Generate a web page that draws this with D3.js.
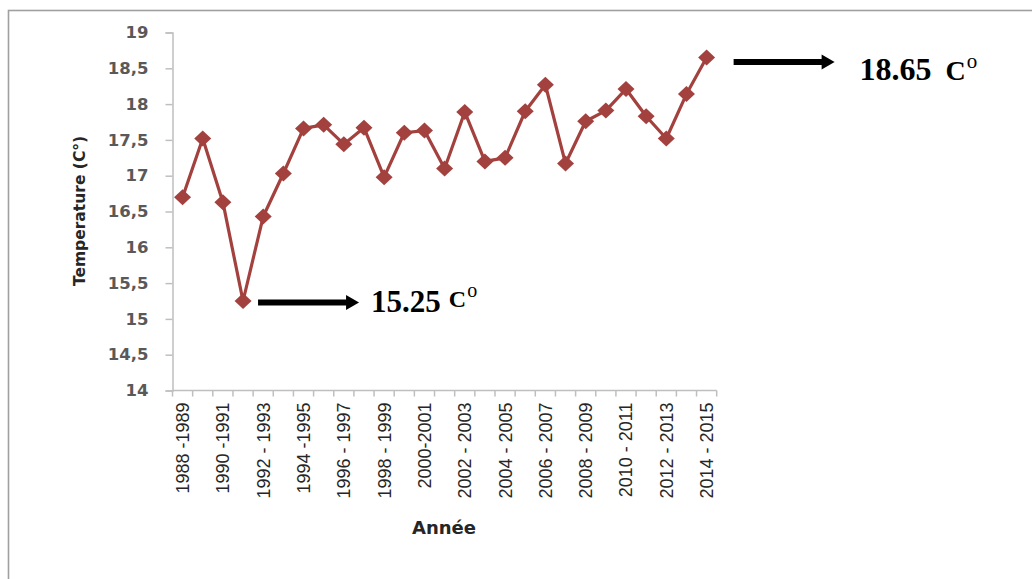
<!DOCTYPE html>
<html>
<head>
<meta charset="utf-8">
<script src="https://cdn.jsdelivr.net/npm/d3@7"></script>
<style>
  body { margin: 0; background: #fff; }
  svg { display: block; }
</style>
</head>
<body>
<svg id="chart" width="1032" height="579"></svg>
<script>
// Seasonal periods (one per hydrological year)
const periods = [
  "1988 -1989", "1989 - 1990", "1990 -1991", "1991 - 1992", "1992 - 1993",
  "1993 - 1994", "1994 -1995", "1995 - 1996", "1996 - 1997", "1997 - 1998",
  "1998 - 1999", "1999 - 2000", "2000-2001", "2001 - 2002", "2002 - 2003",
  "2003 - 2004", "2004 - 2005", "2005 - 2006", "2006 - 2007", "2007 - 2008",
  "2008 - 2009", "2009 - 2010", "2010 - 2011", "2011 - 2012", "2012 - 2013",
  "2013 - 2014", "2014 - 2015"
];

// Mean annual temperature (°C)
const temperature = [
  16.70, 17.52, 16.63, 15.25, 16.43, 17.03, 17.66, 17.71, 17.44, 17.67,
  16.98, 17.60, 17.63, 17.10, 17.89, 17.20, 17.25, 17.90, 18.27, 17.17,
  17.76, 17.91, 18.21, 17.83, 17.52, 18.14, 18.65
];

// Value axis ticks
const yTicks = [14, 14.5, 15, 15.5, 16, 16.5, 17, 17.5, 18, 18.5, 19];

// Only every second period is labelled on the axis
const labelledPeriods = periods.filter((d, i) => i % 2 === 0);

// Highlighted extremes
const callouts = [
  { period: "1991 - 1992", value: 15.25, text: "15.25" },
  { period: "2014 - 2015", value: 18.65, text: "18.65" }
];

const svg = d3.select("#chart");
const lineColor = "#a3413e";
const axisColor = "#bfbfbf";

// Outer frame
svg.append("rect")
  .attr("x", 8.5).attr("y", 10.5)
  .attr("width", 1040).attr("height", 600)
  .attr("fill", "none")
  .attr("stroke", "#a0a0a0")
  .attr("stroke-width", 1.6);

const x = d3.scaleBand().domain(periods).range([172.5, 716.7]).padding(0);
const y = d3.scaleLinear().domain([14, 19]).range([390.5, 32.5]);
const cx = d => x(d) + x.bandwidth() / 2;

// Y axis
const yAxis = svg.append("g")
  .attr("transform", `translate(${x.range()[0]},0)`)
  .call(d3.axisLeft(y)
    .tickValues(yTicks)
    .tickSize(7)
    .tickPadding(17)
    .tickFormat(d => d3.format(".1~f")(d).replace(".", ",")));
yAxis.select(".domain").attr("stroke", axisColor).attr("stroke-width", 1.5);
yAxis.selectAll(".tick line").attr("stroke", axisColor).attr("stroke-width", 1.5);
yAxis.selectAll(".tick text")
  .attr("fill", "#595959")
  .style("font-family", "'DejaVu Sans', sans-serif")
  .style("font-weight", "bold")
  .style("font-size", "16.5px");

// X axis baseline and category boundary ticks
const xAxis = svg.append("g");
xAxis.append("line")
  .attr("x1", x.range()[0]).attr("x2", x.range()[1])
  .attr("y1", y(14)).attr("y2", y(14))
  .attr("stroke", axisColor).attr("stroke-width", 1.5);
const boundaries = periods.map(d => x(d)).concat([x.range()[1]]);
xAxis.selectAll("line.bound")
  .data(boundaries)
  .join("line")
  .attr("class", "bound")
  .attr("x1", d => d).attr("x2", d => d)
  .attr("y1", y(14)).attr("y2", y(14) + 6)
  .attr("stroke", axisColor).attr("stroke-width", 1.5);

xAxis.selectAll("text.period")
  .data(labelledPeriods)
  .join("text")
  .attr("class", "period")
  .attr("transform", d => `translate(${cx(d)},${y(14) + 12}) rotate(-90)`)
  .attr("text-anchor", "end")
  .attr("dy", "0.36em")
  .attr("fill", "#262626")
  .style("font-family", "'Liberation Sans', Arial, sans-serif")
  .style("font-size", "18px")
  .text(d => d);

// Axis titles
svg.append("text")
  .attr("x", 444).attr("y", 534)
  .attr("text-anchor", "middle")
  .attr("fill", "#262626")
  .style("font-family", "'DejaVu Sans', sans-serif")
  .style("font-weight", "bold")
  .style("font-size", "18px")
  .text("Année");

svg.append("text")
  .attr("transform", "translate(85,211) rotate(-90)")
  .attr("text-anchor", "middle")
  .attr("fill", "#262626")
  .style("font-family", "'DejaVu Sans', sans-serif")
  .style("font-weight", "bold")
  .style("font-size", "15.5px")
  .text("Temperature (C°)");

// Temperature line
const line = d3.line()
  .x((d, i) => cx(periods[i]))
  .y(d => y(d));

svg.append("path")
  .datum(temperature)
  .attr("fill", "none")
  .attr("stroke", lineColor)
  .attr("stroke-width", 3.2)
  .attr("stroke-linejoin", "round")
  .attr("d", line);

// Diamond markers
const diamond = (px, py, w, h) =>
  `M${px},${py - h}L${px + w},${py}L${px},${py + h}L${px - w},${py}Z`;

svg.selectAll("path.marker")
  .data(temperature)
  .join("path")
  .attr("class", "marker")
  .attr("fill", lineColor)
  .attr("d", (d, i) => diamond(cx(periods[i]), y(d), 8.5, 8));

// Callout arrows and labels for the extreme values
const calloutStyle = [
  { ax: 15, ay: 1.5, tx: 12, ty: 9.5, size: 31, cdx: 8, cdy: -5, cSize: 24, odx: 1, ody: -10, oSize: 20 },
  { ax: 27, ay: 4.5, tx: 25, ty: 18, size: 32, cdx: 14, cdy: 0, cSize: 28, odx: 1, ody: -12, oSize: 21 }
];

callouts.forEach((c, k) => {
  const s = calloutStyle[k];
  const px = cx(c.period);
  const py = y(c.value);
  const ay = py + s.ay;
  const x0 = px + s.ax;
  const x1 = x0 + 101;
  const g = svg.append("g");
  g.append("line")
    .attr("x1", x0).attr("x2", x1 - 11)
    .attr("y1", ay).attr("y2", ay)
    .attr("stroke", "#000").attr("stroke-width", 6);
  g.append("path")
    .attr("d", `M${x1 - 13},${ay - 7.5}L${x1},${ay}L${x1 - 13},${ay + 7.5}Z`)
    .attr("fill", "#000");

  const t = g.append("text")
    .attr("x", x1 + s.tx)
    .attr("y", ay + s.ty)
    .attr("fill", "#000")
    .style("font-family", "'Liberation Serif', 'Times New Roman', serif")
    .style("font-weight", "bold")
    .style("font-size", s.size + "px");
  t.append("tspan").text(c.text);
  t.append("tspan")
    .attr("dx", s.cdx)
    .attr("dy", s.cdy)
    .style("font-size", s.cSize + "px")
    .text("C");
  t.append("tspan")
    .attr("dx", s.odx)
    .attr("dy", s.ody)
    .style("font-size", s.oSize + "px")
    .style("font-weight", "normal")
    .text("o");
});
</script>
</body>
</html>
